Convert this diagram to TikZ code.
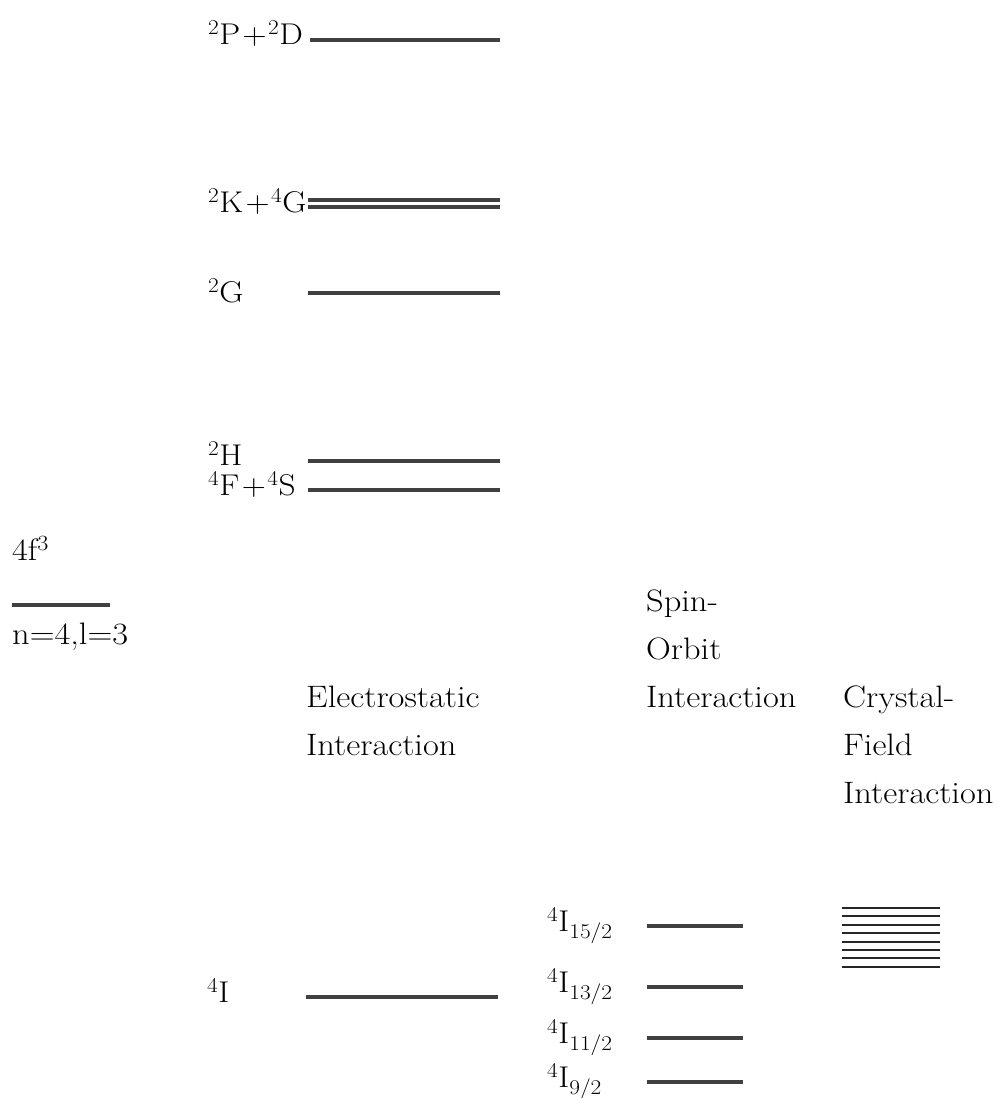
\documentclass[tikz,border=0pt]{standalone}
\usepackage{fontspec}
\setmainfont{Latin Modern Roman}[FakeStretch=1.11]
\newcommand\ls[1]{\textsuperscript{#1}}
\newcommand\pl{\kern0.08em+\kern0.05em}
\begin{document}
\begin{tikzpicture}[x=1pt,y=-1pt,
  lvl/.style={line width=4.5pt,color=black!75},
  cf/.style={line width=2pt,color=black!85},
  lbl/.style={anchor=base west,inner sep=0pt,font=\fontsize{30}{36}\selectfont},
  ttl/.style={anchor=base west,inner sep=0pt,font=\fontsize{31}{37}\selectfont}]
\useasboundingbox (0,0) rectangle (998,1098);
% 4f3
\coordinate (c0a) at (12,605); \coordinate (c0b) at (110,605);
\draw[lvl] (c0a) -- (c0b);
\node[ttl] (t4f) at (12,560) {4f\ls{3}};
\node[ttl] (tn) at (12,644) {n=4,l=3};
% electrostatic levels
\coordinate (a1) at (310,40); \coordinate (b1) at (500,40);
\draw[lvl] (a1) -- (b1);
\node[lbl] (l1) at (208,44) {\ls{2}P\pl\ls{2}D};
\coordinate (a2) at (308,200); \coordinate (b2) at (500,200);
\coordinate (a3) at (308,207); \coordinate (b3) at (500,207);
\draw[lvl] (a2) -- (b2); \draw[lvl] (a3) -- (b3);
\node[lbl] (l2) at (208,212) {\ls{2}K\pl\ls{4}G};
\coordinate (a4) at (308,293); \coordinate (b4) at (500,293);
\draw[lvl] (a4) -- (b4);
\node[lbl] (l4) at (208,302) {\ls{2}G};
\coordinate (a5) at (308,461); \coordinate (b5) at (500,461);
\draw[lvl] (a5) -- (b5);
\node[lbl] (l5) at (208,465) {\ls{2}H};
\coordinate (a6) at (308,490); \coordinate (b6) at (500,490);
\draw[lvl] (a6) -- (b6);
\node[lbl] (l6) at (208,495) {\ls{4}F\pl\ls{4}S};
\coordinate (a7) at (306,997); \coordinate (b7) at (498,997);
\draw[lvl] (a7) -- (b7);
\node[lbl] (l7) at (207,1002) {\ls{4}I};
% spin-orbit
\foreach \y/\b/\j [count=\i] in {926/931/15,987/992/13,1038/1043/11,1082/1087/9}{
  \coordinate (s\i a) at (647,\y); \coordinate (s\i b) at (743,\y);
  \draw[lvl] (s\i a) -- (s\i b);
  \node[lbl] (sl\i) at (547,\b) {\ls{4}I\textsubscript{\j/2}};
}
% crystal field
\foreach \i in {0,...,7}{
  \coordinate (k\i a) at (842,908+8.4*\i); \coordinate (k\i b) at (940,908+8.4*\i);
  \draw[cf] (k\i a) -- (k\i b);
}
% titles
\node[ttl] (te1) at (306,707) {Electrostatic};
\node[ttl] (te2) at (306,755) {Interaction};
\node[ttl] (ts1) at (646,611) {Spin-};
\node[ttl] (ts2) at (646,659) {Orbit};
\node[ttl] (ts3) at (646,707) {Interaction};
\node[ttl] (tc1) at (843,707) {Crystal-};
\node[ttl] (tc2) at (843,755) {Field};
\node[ttl] (tc3) at (843,803) {Interaction};
\end{tikzpicture}
\end{document}
